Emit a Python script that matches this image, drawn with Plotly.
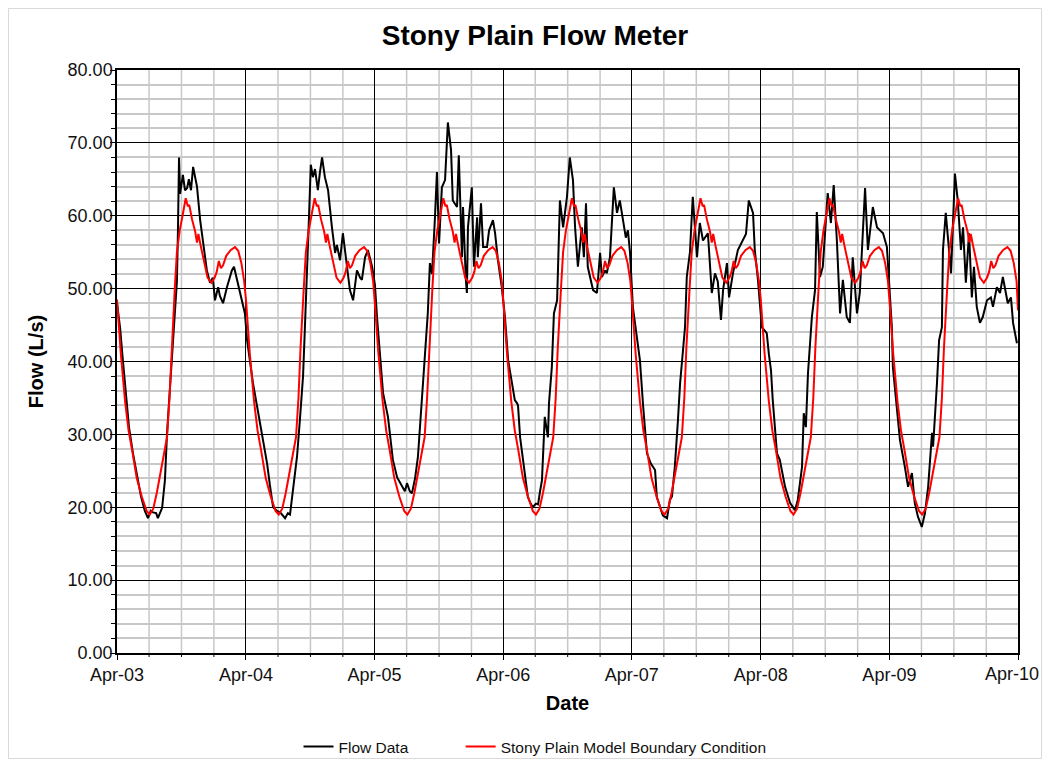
import numpy as np
import pandas as pd
import plotly.graph_objects as go

START = "2003-04-01"

# Flow Data (days since Apr-1-2003, L/s)
flow_days = [0, 9, 17, 26, 34, 45, 57, 68, 79, 88, 96, 102, 111, 116, 128, 136, 142, 150, 156, 165,
             170, 173, 176, 179, 187, 193, 199, 204, 210, 216, 227, 236, 244, 255, 264, 272, 278, 287, 292, 301,
             312, 321, 326, 332, 341, 355, 363, 369, 377, 386, 397, 406, 417, 426, 434, 443, 454, 463, 477, 485,
             491, 499, 511, 519, 528, 533, 539, 545, 550, 556, 562, 570, 576, 582, 590, 599, 610, 619, 624, 633,
             641, 653, 661, 670, 681, 690, 695, 704, 712, 724, 732, 738, 746, 755, 769, 778, 783, 795, 809, 817,
             823, 831, 837, 846, 854, 863, 874, 882, 888, 894, 902, 908, 914, 922, 931, 939, 948, 953, 965, 970,
             979, 982, 990, 993, 996, 1007, 1013, 1022, 1024, 1033, 1039, 1050, 1056, 1067, 1073, 1081, 1092, 1101, 1110, 1121,
             1129, 1135, 1138, 1144, 1152, 1158, 1166, 1175, 1180, 1189, 1195, 1200, 1206, 1214, 1223, 1226, 1234, 1240, 1249, 1257,
             1266, 1277, 1285, 1294, 1300, 1308, 1319, 1325, 1331, 1336, 1345, 1351, 1362, 1371, 1376, 1385, 1390, 1399, 1410, 1419,
             1427, 1436, 1444, 1450, 1456, 1464, 1473, 1484, 1493, 1504, 1515, 1527, 1532, 1541, 1549, 1561, 1569, 1575, 1583, 1592,
             1598, 1612, 1617, 1626, 1634, 1646, 1654, 1663, 1677, 1688, 1697, 1705, 1714, 1720, 1731, 1737, 1748, 1762, 1776, 1785,
             1793, 1805, 1810, 1819, 1830, 1844, 1850, 1856, 1861, 1873, 1881, 1896, 1910, 1924, 1932, 1944, 1949, 1955, 1961, 1972,
             1981, 1986, 1995, 2003, 2017, 2026, 2034, 2043, 2052, 2060, 2071, 2080, 2088, 2100, 2108, 2123, 2131, 2145, 2157, 2165,
             2174, 2185, 2191, 2199, 2202, 2213, 2222, 2236, 2245, 2256, 2264, 2273, 2284, 2293, 2302, 2313, 2316, 2327, 2333, 2341,
             2344, 2352, 2358, 2367, 2378, 2386, 2395, 2401, 2409, 2418, 2426, 2432, 2440, 2449, 2457, 2469, 2480, 2486, 2497, 2506,
             2514, 2520, 2528, 2537, 2543, 2554]
flow_vals = [48, 44.5, 40, 35.5, 31, 27.5, 24.5, 21.5, 19.5, 18.5, 19.5, 19.3, 19.2, 18.5, 19.9, 23.7, 30.2, 36, 40, 46,
             51, 58, 68, 63, 65.6, 63.5, 63.8, 65, 63.5, 66.7, 64, 59.4, 56.6, 52.5, 50.8, 51.5, 48.4, 50.2, 49, 48,
             50.2, 51.5, 52.5, 53, 51.2, 48.4, 46.6, 43, 40, 37, 34, 31.5, 28.5, 26, 23, 20, 19.5, 19.3, 18.5, 19.2,
             19, 22.4, 27, 32, 38, 44.3, 51, 60, 67, 65.3, 66.4, 63.5, 66, 68, 65.3, 63.5, 58.4, 54.9, 56, 53.9,
             57.6, 53, 49.8, 48.4, 52.5, 51.5, 51.2, 54.3, 55.3, 53, 50.5, 46, 41.6, 35.7, 32.4, 29, 26.5, 24.1, 22.8, 22.2,
             23.3, 22.2, 21.9, 24, 26.9, 33, 40.2, 46.6, 53.5, 52, 59.4, 66, 56.2, 63.9, 64.9, 72.8, 69, 62.1, 61.2, 68.3,
             54.3, 61.2, 51.2, 49.4, 58.4, 63.9, 53, 59.8, 54.3, 61.7, 55.7, 55.7, 58, 59.4, 57.6, 53.9, 50.2, 46.1, 40.2, 37,
             34.7, 34.3, 34, 29.6, 26.5, 24.7, 21.4, 20.4, 20, 20.5, 20.4, 22, 23.7, 32.4, 29.6, 34.3, 39.2, 46.6, 48.4, 62.1,
             58.4, 62.6, 68, 64.9, 58.4, 53, 58.4, 54.3, 61.7, 53, 51, 49.8, 49.4, 54.9, 51.6, 52.5, 52.1, 54.3, 63.9, 60.4,
             62.1, 59.4, 57, 58, 54.9, 47.5, 44, 40.2, 34, 27.4, 26, 25.1, 21.4, 20, 18.9, 18.5, 21, 21.5, 25.5, 32,
             37, 44.7, 51.6, 55, 62.6, 54.3, 59, 56.6, 57.6, 49.4, 52.1, 51, 45.7, 49.8, 53.5, 48.8, 52.1, 55.3, 56.6, 57.5,
             62.1, 60.4, 55.3, 51.2, 44.7, 43.9, 41, 38.8, 34.7, 27.4, 26.5, 22.8, 20.6, 19.6, 21, 25.5, 32.9, 31, 38.4, 46.1,
             49.8, 60.5, 51.6, 53, 63.1, 59, 64.2, 56.6, 46.6, 51.2, 46.1, 45.3, 54.3, 46.6, 49.4, 63.8, 55.3, 61.2, 58.4, 58,
             57.6, 55.7, 51.2, 44.7, 39.2, 33.7, 29.2, 25.5, 22.8, 24.7, 20.6, 18.7, 17.3, 19.2, 22.8, 30.2, 28.3, 37, 42.9, 44.7,
             55.3, 60.4, 56.6, 52.1, 65.8, 62.1, 55.3, 58.4, 50.8, 57.6, 48.8, 53, 47.5, 45.3, 46.1, 48.4, 48.8, 47.5, 50.2, 49.4,
             51.6, 49.8, 48, 48.8, 45.3, 42.5]

# Stony Plain Model Boundary Condition (days since Apr-1-2003, L/s)
model_days = [
    0, 11, 23, 33, 43, 56, 70, 84, 93, 103, 113, 122, 132, 142, 149, 155, 164, 170, 178, 186, 195, 201, 205, 213, 222, 227, 231, 237, 247, 257, 268, 277, 283, 289, 295, 301, 310, 323, 335, 344, 353, 361,
    366, 377, 389, 399, 409, 422, 436, 450, 459, 469, 479, 488, 498, 508, 515, 521, 530, 536, 544, 552, 561, 567, 571, 579, 588, 593, 597, 603, 613, 623, 634, 643, 649, 655, 661, 667, 676, 689, 701, 710, 719, 727,
    731, 742, 754, 764, 774, 787, 801, 815, 824, 834, 844, 853, 863, 873, 880, 886, 895, 901, 909, 917, 926, 932, 936, 944, 953, 958, 962, 968, 978, 988, 999, 1008, 1014, 1020, 1026, 1032, 1041, 1054, 1066, 1075, 1084, 1092,
    1096, 1107, 1119, 1129, 1139, 1152, 1166, 1180, 1189, 1199, 1209, 1218, 1228, 1238, 1245, 1251, 1260, 1266, 1274, 1282, 1291, 1297, 1301, 1309, 1318, 1323, 1327, 1333, 1343, 1353, 1364, 1373, 1379, 1385, 1391, 1397, 1406, 1419, 1431, 1440, 1449, 1457,
    1461, 1472, 1484, 1494, 1504, 1517, 1531, 1545, 1554, 1564, 1574, 1583, 1593, 1603, 1610, 1616, 1625, 1631, 1639, 1647, 1656, 1662, 1666, 1674, 1683, 1688, 1692, 1698, 1708, 1718, 1729, 1738, 1744, 1750, 1756, 1762, 1771, 1784, 1796, 1805, 1814, 1822,
    1827, 1838, 1850, 1860, 1870, 1883, 1897, 1911, 1920, 1930, 1940, 1949, 1959, 1969, 1976, 1982, 1991, 1997, 2005, 2013, 2022, 2028, 2032, 2040, 2049, 2054, 2058, 2064, 2074, 2084, 2095, 2104, 2110, 2116, 2122, 2128, 2137, 2150, 2162, 2171, 2180, 2188,
    2192, 2203, 2215, 2225, 2235, 2248, 2262, 2276, 2285, 2295, 2305, 2314, 2324, 2334, 2341, 2347, 2356, 2362, 2370, 2378, 2387, 2393, 2397, 2405, 2414, 2419, 2423, 2429, 2439, 2449, 2460, 2469, 2475, 2481, 2487, 2493, 2502, 2515, 2527, 2536, 2545, 2553,
    2557]
model_vals = [
    48.5, 41, 34.5, 30.5, 27.8, 24, 21.5, 19.5, 19, 19.8, 22, 24.5, 27, 29.6, 35, 42, 50, 55, 58, 60, 62.4, 61.3, 61.5, 59.5, 57.8, 56.3, 57.5, 56, 53.5, 51.5, 50.8, 51.5, 52.3, 53.8, 52.8, 53.2, 54.5, 55.3, 55.7, 55.2, 53.5, 51,
    48.5, 41, 34.5, 30.5, 27.8, 24, 21.5, 19.5, 19, 19.8, 22, 24.5, 27, 29.6, 35, 42, 50, 55, 58, 60, 62.4, 61.3, 61.5, 59.5, 57.8, 56.3, 57.5, 56, 53.5, 51.5, 50.8, 51.5, 52.3, 53.8, 52.8, 53.2, 54.5, 55.3, 55.7, 55.2, 53.5, 51,
    48.5, 41, 34.5, 30.5, 27.8, 24, 21.5, 19.5, 19, 19.8, 22, 24.5, 27, 29.6, 35, 42, 50, 55, 58, 60, 62.4, 61.3, 61.5, 59.5, 57.8, 56.3, 57.5, 56, 53.5, 51.5, 50.8, 51.5, 52.3, 53.8, 52.8, 53.2, 54.5, 55.3, 55.7, 55.2, 53.5, 51,
    48.5, 41, 34.5, 30.5, 27.8, 24, 21.5, 19.5, 19, 19.8, 22, 24.5, 27, 29.6, 35, 42, 50, 55, 58, 60, 62.4, 61.3, 61.5, 59.5, 57.8, 56.3, 57.5, 56, 53.5, 51.5, 50.8, 51.5, 52.3, 53.8, 52.8, 53.2, 54.5, 55.3, 55.7, 55.2, 53.5, 51,
    48.5, 41, 34.5, 30.5, 27.8, 24, 21.5, 19.5, 19, 19.8, 22, 24.5, 27, 29.6, 35, 42, 50, 55, 58, 60, 62.4, 61.3, 61.5, 59.5, 57.8, 56.3, 57.5, 56, 53.5, 51.5, 50.8, 51.5, 52.3, 53.8, 52.8, 53.2, 54.5, 55.3, 55.7, 55.2, 53.5, 51,
    48.5, 41, 34.5, 30.5, 27.8, 24, 21.5, 19.5, 19, 19.8, 22, 24.5, 27, 29.6, 35, 42, 50, 55, 58, 60, 62.4, 61.3, 61.5, 59.5, 57.8, 56.3, 57.5, 56, 53.5, 51.5, 50.8, 51.5, 52.3, 53.8, 52.8, 53.2, 54.5, 55.3, 55.7, 55.2, 53.5, 51,
    48.5, 41, 34.5, 30.5, 27.8, 24, 21.5, 19.5, 19, 19.8, 22, 24.5, 27, 29.6, 35, 42, 50, 55, 58, 60, 62.4, 61.3, 61.5, 59.5, 57.8, 56.3, 57.5, 56, 53.5, 51.5, 50.8, 51.5, 52.3, 53.8, 52.8, 53.2, 54.5, 55.3, 55.7, 55.2, 53.5, 51,
    47]

x_range = ["2003-04-01", "2010-04-01"]
y_range = [0, 80]
year_ticks = ["2003-04-01", "2004-04-01", "2005-04-01", "2006-04-01",
              "2007-04-01", "2008-04-01", "2009-04-01", "2010-04-01"]
year_labels = ["Apr-03", "Apr-04", "Apr-05", "Apr-06", "Apr-07", "Apr-08", "Apr-09", "Apr-10"]

start = pd.Timestamp(START)
flow_dates = start + pd.to_timedelta(flow_days, unit="D")
model_dates = start + pd.to_timedelta(model_days, unit="D")
# quarter boundaries that are not year (Apr) boundaries
quarter_lines = [d for d in pd.date_range(x_range[0], x_range[1], freq="3MS") if d.month != 4]

FONT = "Liberation Sans, Arial, sans-serif"
TXT = "#111111"
NB = "\u00a0"

# page is rendered with an 8px body margin on every side
W, H = 1034, 751
ML, MR, MT, MB = 109, 24, 62, 106
PW, PH = W - ML - MR, H - MT - MB


def px(fx):
    return (fx - ML) / PW


def py(fy):
    return (H - MB - fy) / PH


fig = go.Figure()
fig.add_trace(go.Scatter(x=flow_dates, y=flow_vals, mode="lines", name="Flow Data" + NB * 11,
                         line=dict(color="#000000", width=2)))
fig.add_trace(go.Scatter(x=model_dates, y=model_vals, mode="lines",
                         name="Stony Plain Model Boundary Condition",
                         line=dict(color="#ff0000", width=2)))

fig.update_layout(
    width=W, height=H,
    paper_bgcolor="white", plot_bgcolor="white",
    margin=dict(l=ML, r=MR, t=MT, b=MB, autoexpand=False),
    font=dict(family=FONT, color=TXT),
    title=dict(text="<b>Stony Plain Flow Meter</b>", x=527 / W, xanchor="center",
               y=1 - 27 / H, yanchor="middle", font=dict(size=28, family=FONT, color="#000000")),
    showlegend=True,
    legend=dict(orientation="h", x=px(527), xanchor="center", y=py(739), yanchor="middle",
                font=dict(size=15.5, family=FONT, color=TXT), itemwidth=30,
                bgcolor="rgba(0,0,0,0)"),
)

fig.update_xaxes(
    type="date", range=x_range, tickmode="array", tickvals=year_ticks,
    ticktext=year_labels[:-1] + [""],
    showgrid=True, gridcolor="#000000", gridwidth=1.2,
    ticks="outside", ticklen=5, tickcolor="#000000", tickwidth=1.2,
    tickfont=dict(size=18, family=FONT, color=TXT), ticklabelstandoff=0,
    showline=True, linecolor="#000000", linewidth=1.5, mirror=True,
    title=dict(text="<b>Date</b>", font=dict(size=20, family=FONT, color="#000000"), standoff=12),
    zeroline=False, automargin=False,
)
fig.update_yaxes(
    range=y_range, dtick=10, tickformat=".2f",
    showgrid=True, gridcolor="#000000", gridwidth=1.2,
    ticks="outside", ticklen=5, tickcolor="#000000", tickwidth=1.2,
    tickfont=dict(size=18, family=FONT, color=TXT), ticklabelstandoff=-6,
    minor=dict(dtick=2, showgrid=True, gridcolor="#c8c8c8", gridwidth=1.5,
               ticks="outside", ticklen=4, tickcolor="#000000"),
    showline=True, linecolor="#000000", linewidth=1.5, mirror=True,
    title=dict(text="<b>Flow (L/s)</b>", font=dict(size=20, family=FONT, color="#000000"), standoff=19),
    zeroline=False, automargin=False,
)

# last date label, kept inside the page
fig.add_annotation(text=year_labels[-1], xref="paper", yref="paper", x=px(W - 1), y=0,
                   xanchor="right", yanchor="top", yshift=-9, showarrow=False,
                   font=dict(size=18, family=FONT, color=TXT))

# quarterly minor gridlines and their tick marks on the date axis
for d in quarter_lines:
    fig.add_shape(type="line", xref="x", yref="paper", x0=d, x1=d, y0=0, y1=1,
                  line=dict(color="#c8c8c8", width=1.5), layer="between")
    fig.add_shape(type="line", xref="x", yref="paper", x0=d, x1=d, y0=0, y1=-4 / PH,
                  line=dict(color="#000000", width=1), layer="above")

# light outer border of the chart area
fig.add_shape(type="rect", xref="paper", yref="paper",
              x0=px(0.5), x1=px(W - 0.5), y0=py(H - 0.5), y1=py(0.5),
              line=dict(color="#d9d9d9", width=1), fillcolor="rgba(0,0,0,0)", layer="below")

fig.write_html("out.html")
